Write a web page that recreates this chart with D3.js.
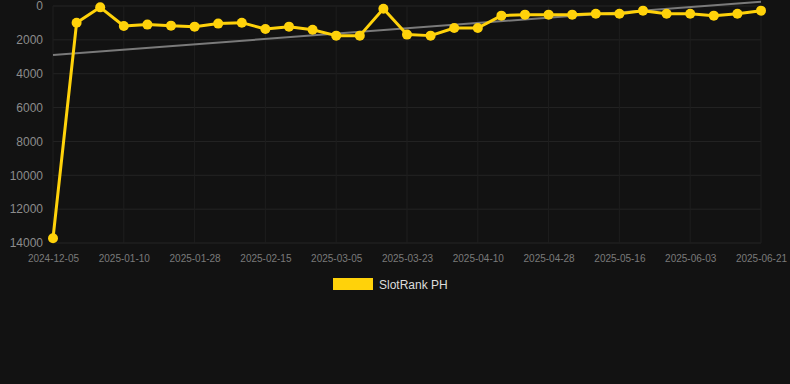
<!DOCTYPE html>
<html><head><meta charset="utf-8">
<script src="https://cdn.jsdelivr.net/npm/d3@7"></script>
<style>
html,body{margin:0;padding:0;background:#121212;}
svg{display:block;}
text{font-family:"Liberation Sans",Arial,sans-serif;}
</style></head>
<body><svg id="c" width="790" height="384"></svg>
<script>
const dates = ["2024-12-05","2024-12-17","2024-12-29","2025-01-10","2025-01-16","2025-01-22","2025-01-28","2025-02-03","2025-02-09","2025-02-15","2025-02-21","2025-02-27","2025-03-05","2025-03-11","2025-03-17","2025-03-23","2025-03-29","2025-04-04","2025-04-10","2025-04-16","2025-04-22","2025-04-28","2025-05-04","2025-05-10","2025-05-16","2025-05-22","2025-05-28","2025-06-03","2025-06-09","2025-06-15","2025-06-21"];
const ranks = [13720,990,80,1180,1100,1160,1220,1040,985,1360,1220,1400,1750,1750,165,1690,1750,1300,1300,570,510,510,510,455,455,275,455,455,570,455,275];
const trendEnds = [2890,-250];
const yTicks = [0,2000,4000,6000,8000,10000,12000,14000];
const seriesName = "SlotRank PH";

const svg = d3.select("#c");
const L = 53, R = 761, T = 6, B = 243;
const x = d3.scalePoint().domain(dates).range([L, R]);
const y = d3.scaleLinear().domain([0,14000]).range([T, B]);

const labelDates = dates.filter((d,i)=> i%3===0);

// grid
const g = svg.append("g");
g.selectAll("line.h").data(yTicks).enter().append("line")
  .attr("x1", L).attr("x2", R).attr("y1", d=>y(d)).attr("y2", d=>y(d))
  .attr("stroke", "#242424").attr("stroke-width", 1);
g.selectAll("line.v").data(labelDates).enter().append("line")
  .attr("x1", d=>x(d)).attr("x2", d=>x(d)).attr("y1", T).attr("y2", B)
  .attr("stroke", "#1e1e1e").attr("stroke-width", 1);

// axes
const yAxis = d3.axisLeft(y).tickValues(yTicks).tickSize(0).tickPadding(10).tickFormat(d3.format("d"));
const ya = svg.append("g").attr("transform", `translate(${L},0)`).call(yAxis);
ya.select(".domain").remove();
ya.selectAll("text").attr("fill", "#8c8c8c").style("font-size", "12px");

const xAxis = d3.axisBottom(x).tickValues(labelDates).tickSize(0).tickPadding(12);
const xa = svg.append("g").attr("transform", `translate(0,${B})`).call(xAxis);
xa.select(".domain").remove();
xa.selectAll("text").attr("fill", "#7a7a7a").style("font-size", "10px");

// trend line
svg.append("line")
  .attr("x1", x(dates[0])).attr("x2", x(dates[dates.length-1]))
  .attr("y1", y(trendEnds[0])).attr("y2", y(trendEnds[1]))
  .attr("stroke", "#7a7a7a").attr("stroke-width", 2);

// series
const line = d3.line().x((d,i)=>x(dates[i])).y(d=>y(d));
svg.append("path").datum(ranks).attr("d", line)
  .attr("fill", "none").attr("stroke", "#FFD20A").attr("stroke-width", 3)
  .attr("stroke-linejoin", "round");
svg.selectAll("circle.p").data(ranks).enter().append("circle")
  .attr("cx", (d,i)=>x(dates[i])).attr("cy", d=>y(d)).attr("r", 5)
  .attr("fill", "#FFD20A");

// legend
svg.append("rect").attr("x", 333).attr("y", 278).attr("width", 40).attr("height", 12)
  .attr("fill", "#FFD20A");
svg.append("text").attr("x", 379).attr("y", 288.5).text(seriesName)
  .attr("fill", "#dddddd").style("font-size", "12px");
</script>
</body></html>
